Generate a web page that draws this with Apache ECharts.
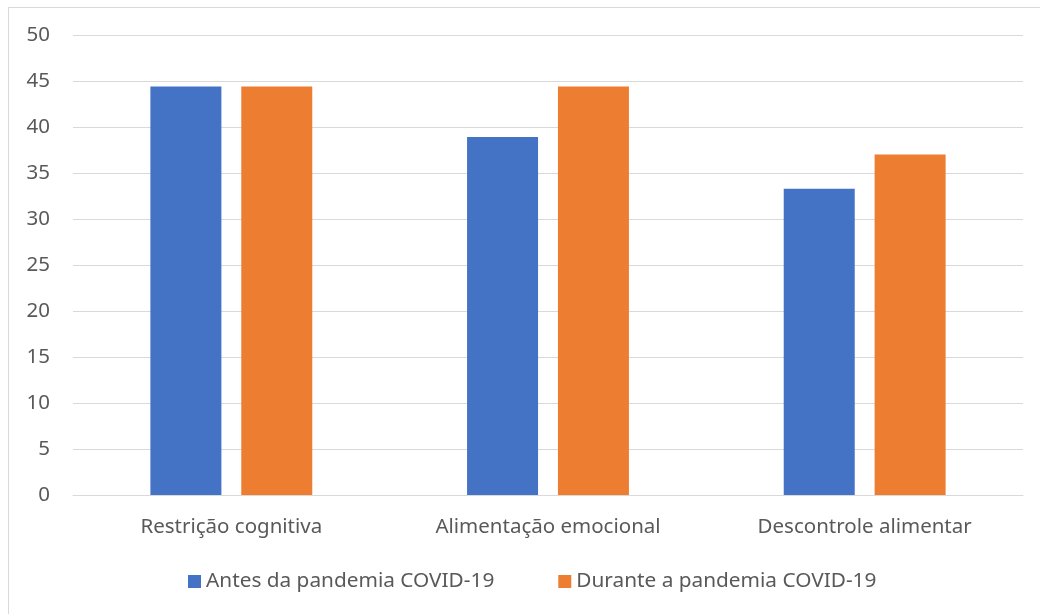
<!DOCTYPE html>
<html>
<head>
<meta charset="utf-8">
<script src="https://cdn.jsdelivr.net/npm/echarts@6/dist/echarts.min.js"></script>
<style>
  html, body { margin: 0; padding: 0; background: #fff; }
  #frame { position: absolute; left: 8px; top: 7px; width: 1040px; height: 620px; border: 1px solid #d9d9d9; box-sizing: border-box; }
  #chart { position: absolute; left: 0; top: 0; width: 1040px; height: 614px; }
</style>
</head>
<body>
<div id="frame"></div>
<div id="chart"></div>
<script>
var categories = ["Restrição cognitiva", "Alimentação emocional", "Descontrole alimentar"];
var seriesNames = ["Antes da pandemia COVID-19", "Durante a pandemia COVID-19"];
var antes = [44.4, 38.9, 33.3];
var durante = [44.4, 44.4, 37.0];

var chart = echarts.init(document.getElementById("chart"));
var font = "Noto Sans, sans-serif";
var option = {
  animation: false,
  color: ["#4472c4", "#ed7d31"],
  textStyle: { fontFamily: font },
  grid: { left: 73, right: 17, top: 35, bottom: 119, containLabel: false },
  legend: {
    bottom: 17,
    left: 183,
    padding: 5,
    itemWidth: 13,
    itemHeight: 13,
    itemGap: 64,
    icon: "rect",
    textStyle: { color: "#595959", fontSize: 20.8, fontFamily: font },
    data: seriesNames
  },
  xAxis: {
    type: "category",
    data: categories,
    axisLine: { lineStyle: { color: "#d9d9d9", width: 1 } },
    axisTick: { show: false },
    axisLabel: { color: "#595959", fontSize: 20.5, margin: 22, fontFamily: font }
  },
  yAxis: {
    type: "value",
    min: 0,
    max: 50,
    interval: 5,
    axisLine: { show: false },
    axisTick: { show: false },
    axisLabel: { color: "#595959", fontSize: 20.5, margin: 23, fontFamily: font },
    splitLine: { lineStyle: { color: "#d9d9d9", width: 1 } }
  },
  series: [
    { name: seriesNames[0], type: "bar", data: antes, barWidth: 71, barGap: "28%" },
    { name: seriesNames[1], type: "bar", data: durante, barWidth: 71, barGap: "28%" }
  ]
};
chart.setOption(option);
</script>
</body>
</html>
